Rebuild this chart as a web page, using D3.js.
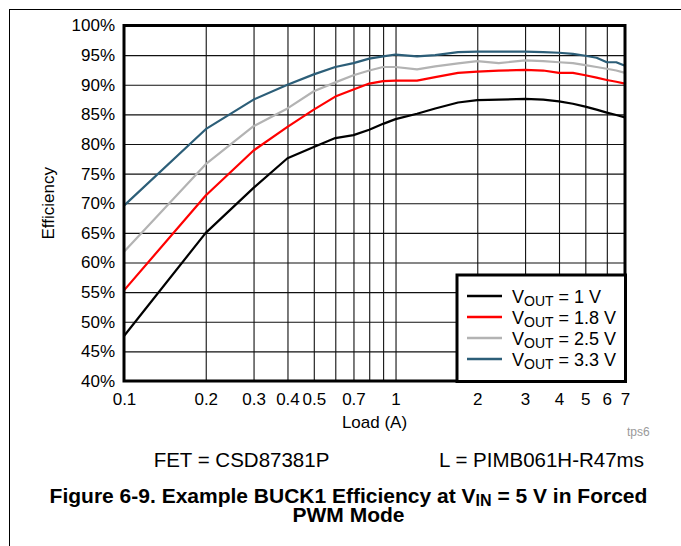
<!DOCTYPE html>
<html>
<head>
<meta charset="utf-8">
<script src="https://cdn.jsdelivr.net/npm/d3@7"></script>
<style>
  html, body { margin: 0; padding: 0; background: #fff; }
  svg { display: block; }
  text { font-family: Arial, "Liberation Sans", sans-serif; }
</style>
</head>
<body>
<svg id="chart" width="681" height="546"></svg>
<script>
// ---- data ----
const loads   = [0.1, 0.2, 0.3, 0.4, 0.5, 0.6, 0.7, 0.8, 0.9, 1, 1.2, 1.4, 1.7, 2, 2.4, 3, 3.5, 4, 4.5, 5, 5.5, 6, 6.5, 7];
const eff1V   = [47.6, 65.0, 72.6, 77.6, 79.5, 81.0, 81.5, 82.4, 83.4, 84.2, 85.1, 86.0, 87.0, 87.4, 87.5, 87.6, 87.5, 87.2, 86.8, 86.3, 85.8, 85.3, 84.9, 84.5];
const eff1V8  = [55.3, 71.3, 78.9, 82.9, 85.8, 88.0, 89.2, 90.2, 90.6, 90.7, 90.7, 91.3, 92.0, 92.2, 92.4, 92.5, 92.4, 92.0, 92.0, 91.6, 91.2, 90.8, 90.5, 90.2];
const eff2V5  = [61.8, 76.6, 83.0, 86.0, 88.9, 90.4, 91.6, 92.4, 93.0, 93.0, 92.6, 93.1, 93.6, 94.0, 93.65, 94.1, 94.0, 93.8, 93.65, 93.3, 93.0, 92.7, 92.4, 92.0];
const eff3V3  = [69.6, 82.5, 87.5, 90.0, 91.75, 93.0, 93.65, 94.4, 94.8, 95.1, 94.8, 95.0, 95.5, 95.6, 95.6, 95.6, 95.5, 95.4, 95.2, 94.9, 94.55, 93.8, 93.8, 93.2];
const seriesNames  = ["1 V", "1.8 V", "2.5 V", "3.3 V"];
const seriesColors = ["#000000", "#ff0000", "#b3b3b3", "#2c5e78"];
const yTicks       = [40, 45, 50, 55, 60, 65, 70, 75, 80, 85, 90, 95, 100];
const xTickLabels  = [0.1, 0.2, 0.3, 0.4, 0.5, 0.7, 1, 2, 3, 4, 5, 6, 7];
const xGridValues  = [0.2, 0.3, 0.4, 0.5, 0.6, 0.7, 0.8, 0.9, 1, 2, 3, 4, 5, 6];

const seriesValues = [eff1V, eff1V8, eff2V5, eff3V3];

// ---- layout ----
const svg = d3.select("#chart");
const L = 124, T = 25.5, R = 625, B = 381;
const W = R - L, H = B - T;

const x = d3.scaleLog().domain([0.1, 7]).range([L, R]);
const y = d3.scaleLinear().domain([40, 100]).range([B, T]);

// page frame lines
svg.append("line").attr("x1", 9).attr("x2", 681).attr("y1", 9.5).attr("y2", 9.5).attr("stroke", "#000").attr("stroke-width", 1);
svg.append("line").attr("x1", 9.5).attr("x2", 9.5).attr("y1", 9).attr("y2", 546).attr("stroke", "#000").attr("stroke-width", 1);

// grid
const gGrid = svg.append("g");
gGrid.append("g").attr("transform", `translate(0,${B})`)
  .call(d3.axisBottom(x).tickValues(xGridValues).tickSize(-H).tickFormat(""))
  .call(g => g.select(".domain").remove())
  .call(g => g.selectAll("line").attr("stroke", "#111").attr("stroke-width", 1.1));
gGrid.append("g").attr("transform", `translate(${L},0)`)
  .call(d3.axisLeft(y).tickValues(yTicks.slice(1, -1)).tickSize(-W).tickFormat(""))
  .call(g => g.select(".domain").remove())
  .call(g => g.selectAll("line").attr("stroke", "#111").attr("stroke-width", 1.1));

// series lines
const line = d3.line().x(d => x(d[0])).y(d => y(d[1]));
seriesValues.forEach((vals, i) => {
  svg.append("path")
    .datum(loads.map((l, j) => [l, vals[j]]))
    .attr("fill", "none")
    .attr("stroke", seriesColors[i])
    .attr("stroke-width", 2.2)
    .attr("stroke-linejoin", "round")
    .attr("d", line);
});

// plot border
svg.append("rect").attr("x", L).attr("y", T).attr("width", W).attr("height", H)
  .attr("fill", "none").attr("stroke", "#000").attr("stroke-width", 3);

// y axis labels
svg.append("g").attr("transform", `translate(${L},0)`)
  .call(d3.axisLeft(y).tickValues(yTicks).tickSize(0).tickPadding(9).tickFormat(d => d + "%"))
  .call(g => g.select(".domain").remove())
  .call(g => g.selectAll("text").attr("font-size", 17).attr("fill", "#000")
      .attr("font-family", "Arial, 'Liberation Sans', sans-serif"));

// x axis labels
svg.append("g").attr("transform", `translate(0,${B})`)
  .call(d3.axisBottom(x).tickValues(xTickLabels).tickSize(0).tickPadding(12).tickFormat(d => String(d)))
  .call(g => g.select(".domain").remove())
  .call(g => g.selectAll("text").attr("font-size", 17).attr("fill", "#000")
      .attr("font-family", "Arial, 'Liberation Sans', sans-serif"));

// axis titles
svg.append("text").attr("x", (L + R) / 2).attr("y", 428).attr("text-anchor", "middle")
  .attr("font-size", 17).text("Load (A)");
svg.append("text").attr("transform", `translate(54,${(T + B) / 2}) rotate(-90)`)
  .attr("text-anchor", "middle").attr("font-size", 17).text("Efficiency");

// legend
const lg = svg.append("g");
lg.append("rect").attr("x", 457).attr("y", 275).attr("width", 168.5).attr("height", 106.5)
  .attr("fill", "#fff").attr("stroke", "#000").attr("stroke-width", 3);
seriesNames.forEach((name, i) => {
  const yy = 296 + i * 21;
  lg.append("line").attr("x1", 467).attr("x2", 502).attr("y1", yy).attr("y2", yy)
    .attr("stroke", seriesColors[i]).attr("stroke-width", 2.5);
  const t = lg.append("text").attr("x", 512).attr("y", yy + 7).attr("font-size", 18);
  t.append("tspan").text("V");
  t.append("tspan").attr("font-size", 14).attr("dy", 3).text("OUT");
  t.append("tspan").attr("dy", -3).text(" = " + name);
});

// note
svg.append("text").attr("x", 627).attr("y", 436).attr("font-size", 12).attr("fill", "#9a9a9a").text("tps6");
svg.append("text").attr("x", 241.5).attr("y", 467).attr("text-anchor", "middle").attr("font-size", 20.5).text("FET = CSD87381P");
svg.append("text").attr("x", 541.5).attr("y", 467).attr("text-anchor", "middle").attr("font-size", 20.5).text("L = PIMB061H-R47ms");

// caption
const cap = svg.append("text").attr("x", 348.5).attr("y", 503).attr("text-anchor", "middle")
  .attr("font-size", 21).attr("font-weight", "bold");
cap.append("tspan").text("Figure 6-9. Example BUCK1 Efficiency at V");
cap.append("tspan").attr("font-size", 16).attr("dy", 3).text("IN");
cap.append("tspan").attr("dy", -3).text(" = 5 V in Forced");
svg.append("text").attr("x", 348.5).attr("y", 522).attr("text-anchor", "middle")
  .attr("font-size", 21).attr("font-weight", "bold").text("PWM Mode");
</script>
</body>
</html>
